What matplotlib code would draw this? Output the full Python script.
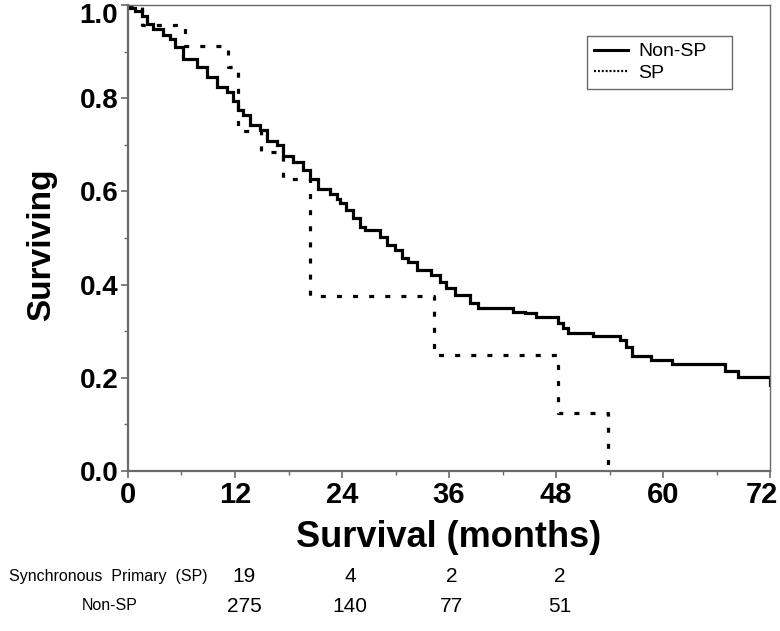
import matplotlib
matplotlib.use("Agg")
import matplotlib.pyplot as plt
from matplotlib.lines import Line2D
from matplotlib.ticker import MultipleLocator
import matplotlib.transforms as mtransforms

# ---- data ----
nonsp_t = [0, 0.03, 0.78, 1.54, 2.1, 2.84, 3.96, 4.7, 5.27, 6.2, 7.7, 8.82, 9.94,
           11.06, 11.8, 12.37, 12.9, 13.7, 14.8, 15.55, 16.67, 17.4, 18.5, 19.65,
           20.4, 21.3, 22.6, 23.4, 23.8, 24.5, 25.26, 26.0, 26.6, 28.25, 29.0, 29.9,
           30.7, 31.4, 32.4, 34.0, 35.0, 35.7, 36.66, 38.3, 39.3, 43.2, 44.5, 45.8,
           48.2, 48.8, 49.4, 52.2, 55.2, 55.9, 56.5, 58.7, 61.0, 66.9, 68.4, 72.0]
nonsp_s = [1.0, 0.994, 0.988, 0.977, 0.960, 0.949, 0.935, 0.927, 0.910, 0.885, 0.867,
           0.845, 0.824, 0.813, 0.795, 0.774, 0.763, 0.742, 0.731, 0.709, 0.699, 0.677,
           0.663, 0.645, 0.627, 0.606, 0.595, 0.584, 0.574, 0.559, 0.542, 0.524, 0.517,
           0.502, 0.484, 0.474, 0.456, 0.449, 0.431, 0.420, 0.406, 0.392, 0.377, 0.360,
           0.349, 0.342, 0.338, 0.331, 0.317, 0.306, 0.297, 0.290, 0.281, 0.266, 0.247,
           0.238, 0.229, 0.215, 0.202, 0.184]

sp_t = [0, 1.6, 6.4, 11.2, 12.3, 14.9, 17.4, 20.4, 34.3, 48.2, 53.8]
sp_s = [1.0, 0.958, 0.913, 0.867, 0.729, 0.684, 0.626, 0.375, 0.249, 0.125, 0.0]

xticks = [0, 12, 24, 36, 48, 60, 72]
yticks = [0.0, 0.2, 0.4, 0.6, 0.8, 1.0]
ytick_labels = ["0.0", "0.2", "0.4", "0.6", "0.8", "1.0"]

risk_x = [13.0, 24.9, 36.3, 48.4]
risk_sp = [19, 4, 2, 2]
risk_nonsp = [275, 140, 77, 51]
row_labels = ["Synchronous  Primary  (SP)", "Non-SP"]

# ---- figure ----
plt.rcParams['lines.scale_dashes'] = False
fig = plt.figure(figsize=(7.8, 6.31), dpi=100)
ax = fig.add_axes([0.1641, 0.2536, 0.8231, 0.7385])

ax.step(nonsp_t, nonsp_s, where='post', color='black', lw=2.3, solid_joinstyle='miter')
ax.step(sp_t, sp_s, where='post', color='black', lw=2.3, linestyle=(0, (3.6, 8.0)),
        dash_capstyle='butt')

ax.set_xlim(0, 72)
ax.set_ylim(0, 1.0)
ax.set_xticks(xticks)
ax.set_yticks(yticks)
ax.set_yticklabels(ytick_labels)
ax.xaxis.set_minor_locator(MultipleLocator(6))
ax.yaxis.set_minor_locator(MultipleLocator(0.1))

spine_col = '#6a6a6a'
for s in ['left', 'bottom']:
    ax.spines[s].set_color(spine_col)
    ax.spines[s].set_linewidth(1.6)
for s in ['top', 'right']:
    ax.spines[s].set_color(spine_col)
    ax.spines[s].set_linewidth(1.0)

ax.tick_params(axis='both', which='major', direction='out', length=5, width=1.2,
               color=spine_col, pad=2)
ax.tick_params(axis='both', which='minor', direction='out', length=3, width=1.0,
               color=spine_col)
ax.tick_params(top=False, right=False)

sans = ['Liberation Sans', 'DejaVu Sans']
xlabs = ax.get_xticklabels()
for lab in xlabs:
    lab.set_fontfamily(sans)
    lab.set_fontweight('bold')
    lab.set_fontsize(21)
# keep the last label inside the figure edge, as in the reference
xlabs[-1].set_transform(xlabs[-1].get_transform() +
                        mtransforms.ScaledTranslation(-8 / 100, 0, fig.dpi_scale_trans))
ylabs = ax.get_yticklabels()
for lab in ylabs:
    lab.set_fontfamily(sans)
    lab.set_fontweight('bold')
    lab.set_fontsize(20)
# top label sits slightly below its tick in the reference
ylabs[-1].set_transform(ylabs[-1].get_transform() +
                        mtransforms.ScaledTranslation(0, -8 / 100, fig.dpi_scale_trans))

ax.set_xlabel("Survival (months)", fontfamily=sans, fontweight='bold', fontsize=26,
              labelpad=8)
ax.set_ylabel("Surviving", fontfamily=sans, fontweight='bold', fontsize=24)
ax.yaxis.set_label_coords(-0.11, 0.485)

# legend
handles = [Line2D([0], [0], color='black', lw=2.2),
           Line2D([0], [0], color='black', lw=1.6, linestyle=(0, (1.4, 1.4)))]
leg = ax.legend(handles, ["Non-SP", "SP"], loc='upper left',
                bbox_to_anchor=(0.715, 0.818, 0.226, 0.1155), mode='expand',
                borderaxespad=0, frameon=True, fancybox=False,
                edgecolor='#444444', handlelength=1.75, handletextpad=0.55,
                borderpad=0.35, labelspacing=0.2,
                prop={'family': sans, 'size': 14})
leg.get_frame().set_linewidth(1.0)

# number at risk table
trans = mtransforms.blended_transform_factory(ax.transData, fig.transFigure)
row_y = [1 - 577 / 631, 1 - 606 / 631]
fig.text(208 / 780, row_y[0], row_labels[0], ha='right', va='center',
         fontfamily=sans, fontsize=11.5)
fig.text(110 / 780, row_y[1], row_labels[1], ha='center', va='center',
         fontfamily=sans, fontsize=11.5)
for x, a, b in zip(risk_x, risk_sp, risk_nonsp):
    ax.text(x, row_y[0], str(a), transform=trans, ha='center', va='center',
            fontfamily=sans, fontsize=15)
    ax.text(x, row_y[1], str(b), transform=trans, ha='center', va='center',
            fontfamily=sans, fontsize=15)

fig.savefig("out.png", dpi=100)
